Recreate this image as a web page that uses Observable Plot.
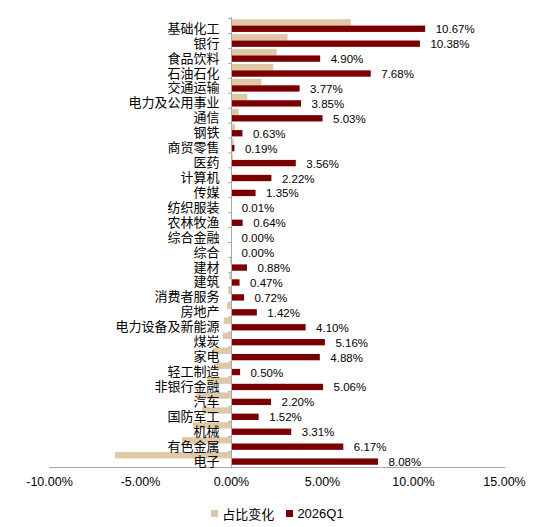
<!DOCTYPE html>
<html><head><meta charset="utf-8">
<script src="https://cdn.jsdelivr.net/npm/d3@7"></script>
<script src="https://cdn.jsdelivr.net/npm/@observablehq/plot@0.6"></script>
<style>
body{margin:0;background:#fff;font-family:"Liberation Sans",Arial,sans-serif;}
#chart svg{display:block}
#legend{display:flex;justify-content:center;align-items:center;height:27px;font-size:13px;color:#000;padding-left:5px;box-sizing:border-box;width:550px}
.item{display:flex;align-items:center;margin:0 6px}
.sw{width:7px;height:7px;margin-right:4px}
.cjk{font-family:"Noto Sans CJK SC",sans-serif}
</style></head><body>
<div id="chart"></div>
<div id="legend">
  <div class="item"><div class="sw" style="background:#DFC8A6"></div><span class="cjk">占比变化</span></div>
  <div class="item"><div class="sw" style="background:#7A0000"></div><span>2026Q1</span></div>
</div>
<script>
const categories = ["基础化工","银行","食品饮料","石油石化","交通运输","电力及公用事业","通信","钢铁","商贸零售","医药","计算机","传媒","纺织服装","农林牧渔","综合金融","综合","建材","建筑","消费者服务","房地产","电力设备及新能源","煤炭","家电","轻工制造","非银行金融","汽车","国防军工","机械","有色金属","电子"];
const change = [6.58,3.11,2.51,2.33,1.67,0.90,0.42,0.22,0.15,0.10,0.05,0.03,0.00,0.02,0.00,0.00,-0.05,-0.10,-0.15,-0.22,-0.40,-0.46,-1.00,-0.90,-1.30,-1.90,-1.60,-2.10,-2.70,-6.37];
const q1 = [10.67,10.38,4.90,7.68,3.77,3.85,5.03,0.63,0.19,3.56,2.22,1.35,0.01,0.64,0.00,0.00,0.88,0.47,0.72,1.42,4.10,5.16,4.88,0.50,5.06,2.20,1.52,3.31,6.17,8.08];
const xTicks = [-10,-5,0,5,10,15];

const rows = categories.map((c,i)=>({cat:c, change:change[i], q1:q1[i]}));
const fmt = d => d.toFixed(2) + "%";
const gray = "#A6A6A6";

const chart = Plot.plot({
  width: 550, height: 500,
  marginLeft: 49, marginRight: 46, marginTop: 17, marginBottom: 33,
  style: {fontFamily: "'Liberation Sans', Arial, sans-serif", fontSize: "12.5px", color: "#000", background: "#fff"},
  x: {domain: [-10, 15], axis: null},
  y: {domain: categories, padding: 0.15, round: false, axis: null},
  marks: [
    Plot.barX(rows, {y: "cat", x: "change", fill: "#DFC8A6", insetBottom: 6.35}),
    Plot.barX(rows, {y: "cat", x: "q1", fill: "#7A0000", insetTop: 6.35}),
    Plot.ruleX([0], {stroke: gray, strokeWidth: 1}),
    Plot.ruleY(categories, {y: d => d, x1: -0.16, x2: 0, dy: -7.47, stroke: gray}),
    Plot.frame({anchor: "bottom", stroke: gray}),
    Plot.axisX({ticks: xTicks, tickSize: 0, tickPadding: 10, tickFormat: fmt, fontSize: 12.5, fill: "#000"}),
    Plot.text(rows, {y: "cat", x: () => 0, text: "cat", dx: -12, dy: 2.5, textAnchor: "end", fontSize: 13, fontFamily: "'Noto Sans CJK SC', sans-serif", fill: "#000"}),
    Plot.text(rows, {y: "cat", x: "q1", text: d => fmt(d.q1), dx: 10, dy: 3.5, textAnchor: "start", fontSize: 11.5, fill: "#000"})
  ]
});
document.getElementById("chart").appendChild(chart);
</script>
</body></html>
